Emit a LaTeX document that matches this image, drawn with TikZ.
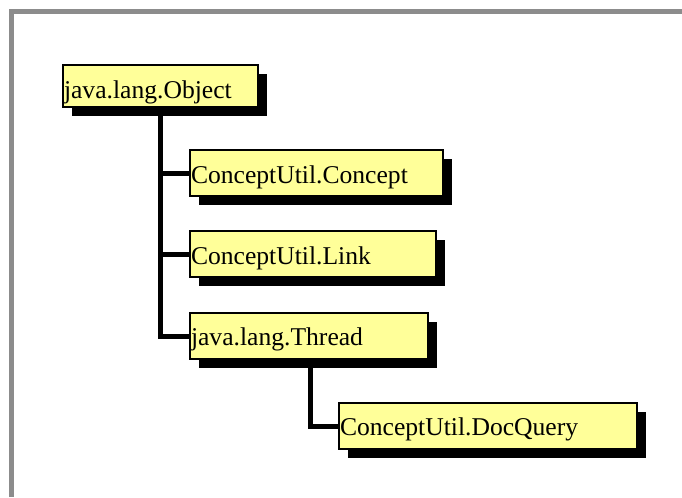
\documentclass[tikz,border=0pt]{standalone}
\usepackage{fontspec}
\setmainfont{Liberation Serif}
\usetikzlibrary{shadows,backgrounds}

\definecolor{boxfill}{RGB}{255,255,153}
\definecolor{framegray}{RGB}{140,140,140}

\tikzset{
  classbox/.style={
    draw=black, line width=1.5pt, fill=boxfill,
    anchor=north west, align=left,
    inner xsep=0.75pt, inner ysep=2pt,
    font=\fontsize{19.2pt}{22pt}\selectfont,
    text height=16pt, text depth=1pt,
    minimum height=34.5pt,
    drop shadow={shadow xshift=6.75pt, shadow yshift=-6.75pt,
                 fill=black, opacity=1}
  },
  tree/.style={line width=3.75pt, line join=miter, black}
}

\begin{document}
\begin{tikzpicture}[x=0.75pt,y=-0.75pt]
  \useasboundingbox (0,0) rectangle (682,497);

  % outer frame, cut by the page edges
  \draw[framegray, line width=3.75pt, line join=miter]
    (11.5,497) -- (11.5,11.5) -- (682,11.5);

  % class boxes
  \node[classbox, text width=144.75pt, minimum height=31.5pt,
        text height=19pt] (obj) at (62,64) {java.lang.Object};
  \node[classbox, text width=188.25pt] (concept) at (189,149) {ConceptUtil.Concept};
  \node[classbox, text width=183pt] (link) at (189,230) {ConceptUtil.Link};
  \node[classbox, text width=177pt, text height=14.5pt] (thread) at (189,312) {java.lang.Thread};
  \node[classbox, text width=222pt, text height=14.5pt] (doc) at (338,402) {ConceptUtil.DocQuery};

  % inheritance tree
  \coordinate (objx) at (160,0);
  \coordinate (thrx) at (310,0);
  \begin{scope}[on background layer]
    \draw[tree] (obj.south -| objx) |- (concept.west);
    \draw[tree] (obj.south -| objx) |- (link.west);
    \draw[tree] (obj.south -| objx) |- (thread.west);
    \draw[tree] (thread.south -| thrx) |- (doc.west);
  \end{scope}
\end{tikzpicture}
\end{document}
